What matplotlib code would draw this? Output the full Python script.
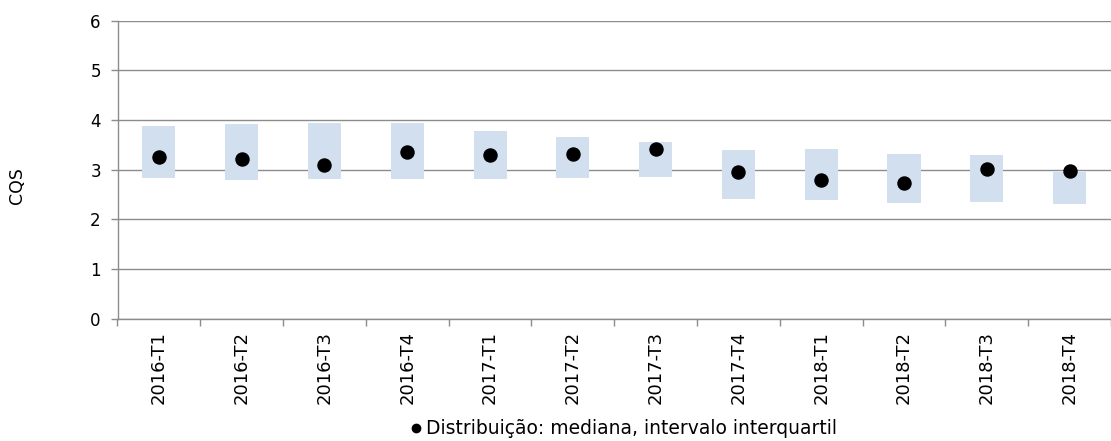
import matplotlib.pyplot as plt
import numpy as np
from matplotlib.lines import Line2D

# data
quarters = ['2016-T1', '2016-T2', '2016-T3', '2016-T4',
            '2017-T1', '2017-T2', '2017-T3', '2017-T4',
            '2018-T1', '2018-T2', '2018-T3', '2018-T4']
median = [3.26, 3.21, 3.09, 3.35, 3.29, 3.32, 3.41, 2.96, 2.79, 2.74, 3.01, 2.97]
q1 = [2.84, 2.80, 2.81, 2.81, 2.81, 2.84, 2.86, 2.41, 2.38, 2.32, 2.34, 2.31]
q3 = [3.88, 3.92, 3.93, 3.94, 3.78, 3.66, 3.56, 3.39, 3.42, 3.31, 3.29, 2.96]

grid_col = '#8c8c8c'
box_col = '#d2dfee'

fig = plt.figure(figsize=(11.11, 4.41), dpi=100)
ax = fig.add_axes([117.5 / 1111, 122.5 / 441, 1 - 117.5 / 1111, 297.8 / 441])

x = np.arange(len(quarters))
q1 = np.array(q1)
q3 = np.array(q3)

# interquartile range as boxes, median as dots
ax.bar(x, q3 - q1, bottom=q1, width=0.4, color=box_col, zorder=1)
ax.plot(x, median, 'o', color='black', markersize=9.4, zorder=3)

ax.set_ylim(0, 6)
ax.set_yticks(range(7))
ax.yaxis.grid(True, color=grid_col, linewidth=1.0)
ax.set_axisbelow(True)
for g in ax.get_ygridlines():
    g.set_zorder(2)

# category boundaries as ticks, labels at centres
ax.set_xlim(-0.5, -0.5 + 994 / 83.3)
ax.set_xticks(np.arange(len(quarters) + 1) - 0.5)
ax.set_xticklabels([])
ax.set_xticks(x, minor=True)
ax.set_xticklabels(quarters, minor=True, rotation=90, fontsize=13)
ax.tick_params(axis='x', which='major', length=5, width=1, color=grid_col, direction='out')
ax.tick_params(axis='x', which='minor', length=0, pad=9)
ax.tick_params(axis='y', length=5, width=1, color=grid_col, labelsize=12, pad=7)

for s in ['top', 'right']:
    ax.spines[s].set_visible(False)
for s in ['left', 'bottom']:
    ax.spines[s].set_color(grid_col)
    ax.spines[s].set_linewidth(1.0)

fig.text(17 / 1111, 1 - 186 / 441, 'CQS', rotation=90, ha='center', va='center', fontsize=12.5)

handle = Line2D([], [], marker='o', color='black', linestyle='none', markersize=6)
fig.legend([handle], ['Distribuição: mediana, intervalo interquartil'],
           loc='center', bbox_to_anchor=(624 / 1111, 12 / 441), frameon=False,
           fontsize=13.5, handlelength=0.5, handletextpad=0.25, borderpad=0)

fig.savefig('out.png', dpi=100)
